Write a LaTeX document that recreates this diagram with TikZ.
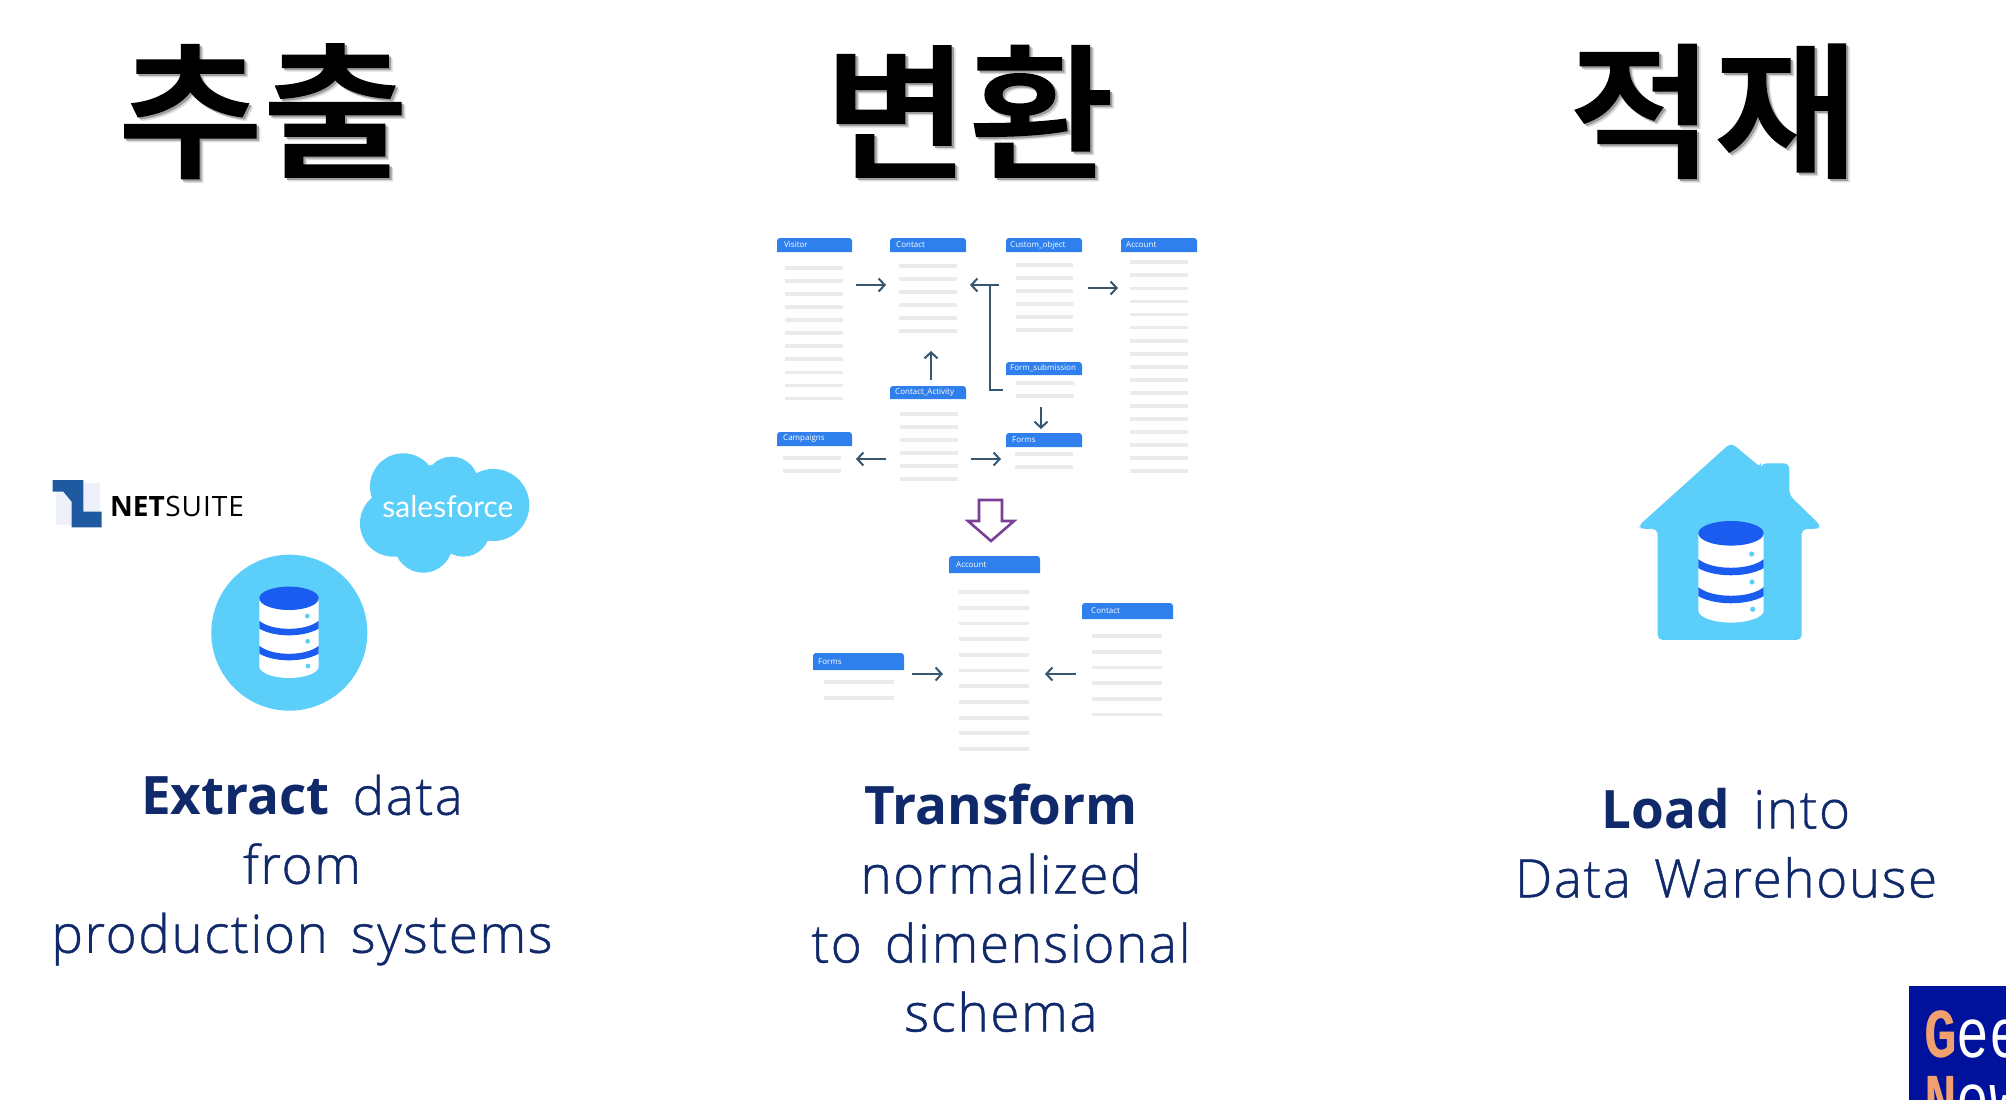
\documentclass[tikz,border=0pt]{standalone}
\usepackage{fontspec}
\setmainfont{Open Sans}
\newfontfamily\bodyfont[LetterSpace=3,WordSpace=1.5,FakeBold=0.8,BoldFont={Open Sans Bold},BoldFeatures={LetterSpace=0,FakeBold=0}]{Open Sans Light}
\newfontfamily\cjkfont[FakeBold=1.5]{Noto Sans CJK KR Medium}
\newfontfamily\latofont{Lato}
\newfontfamily\monofont{Liberation Mono}
\usetikzlibrary{arrows.meta}
\definecolor{skyb}{HTML}{5BCEFA}
\definecolor{deepb}{HTML}{1A5CF0}
\definecolor{hdrb}{HTML}{2F80ED}
\definecolor{rowg}{HTML}{EBEBEB}
\definecolor{arrc}{HTML}{37566F}
\definecolor{navyt}{HTML}{10296B}
\definecolor{purp}{HTML}{7B3F98}
\definecolor{nsblue}{HTML}{1F5AA0}
\definecolor{nspale}{HTML}{EEF1F9}
\definecolor{badge}{HTML}{00119C}
\definecolor{badgeo}{HTML}{EFA06E}
\tikzset{
  titletext/.style={font=\cjkfont\fontsize{146}{146}\selectfont,text=black,inner sep=0pt,xscale=1.08},
  bodytext/.style={font=\bodyfont\fontsize{53}{69}\selectfont,text=navyt,align=center,inner sep=0pt},
  hdrtext/.style={font=\fontsize{8}{8}\selectfont,text=white,inner sep=0pt,anchor=west},
  link/.style={draw=arrc,line width=2pt,-{Straight Barb[length=6pt,width=13pt,line width=2pt]}},
  linkplain/.style={draw=arrc,line width=2pt},
  rowline/.style={draw=rowg,line width=3.8pt}
}
\newcommand{\shadowed}[1]{\makebox[0pt][l]{\hspace{3.5pt}\raisebox{-3.5pt}{\textcolor{black!14}{#1}}}\makebox[0pt][l]{\hspace{2pt}\raisebox{-2pt}{\textcolor{black!38}{#1}}}#1}
% name, x0, x1, ytop, ybot, label, label-x
\newcommand{\tblhead}[7]{%
  \fill[hdrb] (#2,#5) [rounded corners=3pt] -- (#2,#4) -- (#3,#4) [sharp corners] -- (#3,#5) -- cycle;
  \node[hdrtext] (#1) at (#7,{(#4+#5)/2}) {#6};
}
% x0,x1,y0,step,n
\newcommand{\tblrows}[5]{%
  \foreach \ri in {1,...,#5} {\draw[rowline] (#1,{#3+(\ri-1)*#4}) -- (#2,{#3+(\ri-1)*#4});}
}
% centre x, top ellipse y, half width, ellipse ry, side height, band 1, band 2, band width
\newcommand{\dbicon}[8]{%
  \begin{scope}[shift={(#1,#2)}]
    \fill[white] (-#3,0) -- (-#3,#5) .. controls (-#3,#5+#4*0.6) and (-#3*0.5,#5+#4) .. (0,#5+#4) .. controls (#3*0.5,#5+#4) and (#3,#5+#4*0.6) .. (#3,#5) -- (#3,0) -- cycle;
    \fill[deepb] (0,0) ellipse[x radius=#3,y radius=#4];
    \begin{scope}
      \clip (-#3,0) rectangle (#3,#5+#4);
      \foreach \by in {#6,#7} {
        \draw[deepb,line width=#8] (-#3-2,\by) .. controls (-#3*0.6,\by+#4) and (#3*0.6,\by+#4) .. (#3+2,\by);
      }
    \end{scope}
  \end{scope}
}
\begin{document}
\begin{tikzpicture}[x=1pt,y=-1pt]
\useasboundingbox (0,0) rectangle (2006,1100);
\fill[white] (0,0) rectangle (2006,1100);

% titles
\node[titletext] (t1) at (263,113) {\shadowed{추출}};
\node[titletext] (t2) at (969,113) {\shadowed{변환}};
\node[titletext] (t3) at (1714,113) {\shadowed{적재}};

% body texts
\node[bodytext] (b1) at (302,870) {\textbf{Extract} data\\from\\production systems};
\node[bodytext] (b2) at (1001,908) {\textbf{Transform}\\normalized\\to dimensional\\schema};
\node[bodytext] (b3) at (1726,843) {\textbf{Load} into\\Data Warehouse};

% NetSuite
\begin{scope}[shift={(30,440)},x=0.3333pt,y=-0.3333pt]
  \fill[nspale] (78,130) rectangle (210,255);
  \fill[white] (125,165) -- (160,215) -- (160,165) -- cycle;
  \fill[nsblue] (68,120) -- (160,120) -- (160,215) -- (215,215) -- (215,262) -- (125,262) -- (125,185) -- (100,155) -- (68,155) -- cycle;
\end{scope}
\node[inner sep=0pt,anchor=west,font=\fontsize{28}{28}\selectfont,text=black] (ns) at (110,506) {\textbf{NET}\hspace{0.5pt}S\hspace{1pt}U\hspace{1pt}I\hspace{1pt}T\hspace{1pt}E};

% salesforce cloud
\begin{scope}[shift={(30,440)},x=0.3333pt,y=-0.3333pt]
  \fill[skyb] (1120,140) circle[radius=100] (1265,130) circle[radius=80] (1390,195) circle[radius=108]
    (1090,250) circle[radius=100] (1180,310) circle[radius=88] (1300,270) circle[radius=80] (1240,200) circle[radius=130];
\end{scope}
\node[inner sep=0pt,font=\latofont\fontsize{30}{30}\selectfont,text=white] (sf) at (448,507) {salesforce};

% source database
\fill[skyb] (289.3,632.7) circle[radius=78];
\dbicon{289}{598.3}{29.7}{11.7}{68}{25}{50}{6.5pt}
\foreach \dx/\dy in {307.3/616,307.7/641.3,308/666} {\fill[skyb] (\dx,\dy) circle[radius=2.4];}

% warehouse
\begin{scope}[shift={(1600,430)},x=0.3333pt,y=-0.3333pt]
  \fill[skyb,rounded corners=5pt] (393,38) -- (483,113) -- (483,100) -- (568,100) -- (568,195) -- (665,290) -- (650,297) -- (605,297) -- (605,630) -- (173,630) -- (173,297) -- (128,297) -- (113,290) -- cycle;
\end{scope}
\dbicon{1731}{533.3}{32.7}{12.3}{77}{29}{57}{7.5pt}
\foreach \dx/\dy in {1751.7/554,1752/582,1752.7/609.3} {\fill[skyb] (\dx,\dy) circle[radius=2.6];}

% top schema tables
\tblhead{visitor}{777}{852}{238}{252}{Visitor}{784}
\tblrows{785}{843}{268}{13.05}{11}
\tblhead{contact}{890}{966}{238}{252}{Contact}{896}
\tblrows{899}{957}{266}{13.05}{6}
\tblhead{custom}{1006}{1082}{238}{252}{Custom\_object}{1010}
\tblrows{1016}{1073}{265}{13.05}{6}
\tblhead{account}{1121}{1197}{238}{252}{Account}{1126}
\tblrows{1130}{1188}{262.3}{13.05}{17}
\tblhead{formsub}{1006}{1082}{362}{375}{Form\_submission}{1010}
\tblrows{1016}{1074}{383}{13.05}{2}
\tblhead{activity}{890}{966}{386}{399}{Contact\_Activity}{895}
\tblrows{900}{958}{414}{13.05}{6}
\tblhead{campaigns}{777}{852}{432}{446}{Campaigns}{783}
\tblrows{783}{841}{458}{13.05}{2}
\tblhead{forms}{1006}{1082}{433}{447}{Forms}{1012}
\tblrows{1015}{1073}{454}{13.05}{2}

% arrow ends
\coordinate (vo) at (856,285); \coordinate (ci) at (886,285);
\coordinate (co) at (999,285); \coordinate (cr) at (970,285);
\coordinate (fo) at (1003,390); \coordinate (bend) at (990,390); \coordinate (join) at (990,285);
\coordinate (cuo) at (1088,288); \coordinate (aci) at (1118,288);
\coordinate (ato) at (931,380); \coordinate (cb) at (931,351);
\coordinate (fso) at (1041,407); \coordinate (fi) at (1041,429);
\coordinate (al) at (886,459); \coordinate (cai) at (856,459);
\coordinate (ar) at (971,459); \coordinate (ffi) at (1001,459);
\draw[link] (vo) -- (ci);
\draw[link] (co) -- (cr);
\draw[linkplain] (fo) -- (bend) -- (join);
\draw[link] (cuo) -- (aci);
\draw[link] (ato) -- (cb);
\draw[link] (fso) -- (fi);
\draw[link] (al) -- (cai);
\draw[link] (ar) -- (ffi);

% purple arrow
\draw[purp,line width=2.6pt,line join=miter,fill=white] (979,500) -- (1002,500) -- (1002,521) -- (1014,521) -- (991,541) -- (968,521) -- (979,521) -- cycle;

% lower schema tables
\tblhead{acc2}{949}{1040}{556}{573}{Account}{956}
\tblrows{959}{1029}{592}{15.7}{11}
\tblhead{forms2}{813}{904}{653}{670}{Forms}{818}
\tblrows{824}{894}{682}{15.7}{2}
\tblhead{cont2}{1082}{1173}{603}{619}{Contact}{1091}
\tblrows{1092}{1162}{636}{15.7}{6}
\coordinate (f2o) at (912,674); \coordinate (a2l) at (943,674);
\coordinate (c2o) at (1076,674); \coordinate (a2r) at (1045,674);
\draw[link] (f2o) -- (a2l);
\draw[link] (c2o) -- (a2r);

% badge
\begin{scope}
  \clip (0,0) rectangle (2006,1100);
  \fill[badge] (1909,986) rectangle (2006,1100);
  \node[inner sep=0pt,anchor=base west,xscale=0.78,font=\monofont\bfseries\fontsize{70}{70}\selectfont] (g1) at (1924,1057) {\textcolor{badgeo}{G}\textcolor{white}{\mdseries ee}};
  \node[inner sep=0pt,anchor=base west,xscale=0.78,font=\monofont\bfseries\fontsize{70}{70}\selectfont] (g2) at (1924,1122) {\textcolor{badgeo}{N}\textcolor{white}{\mdseries ew}};
\end{scope}
\end{tikzpicture}
\end{document}
